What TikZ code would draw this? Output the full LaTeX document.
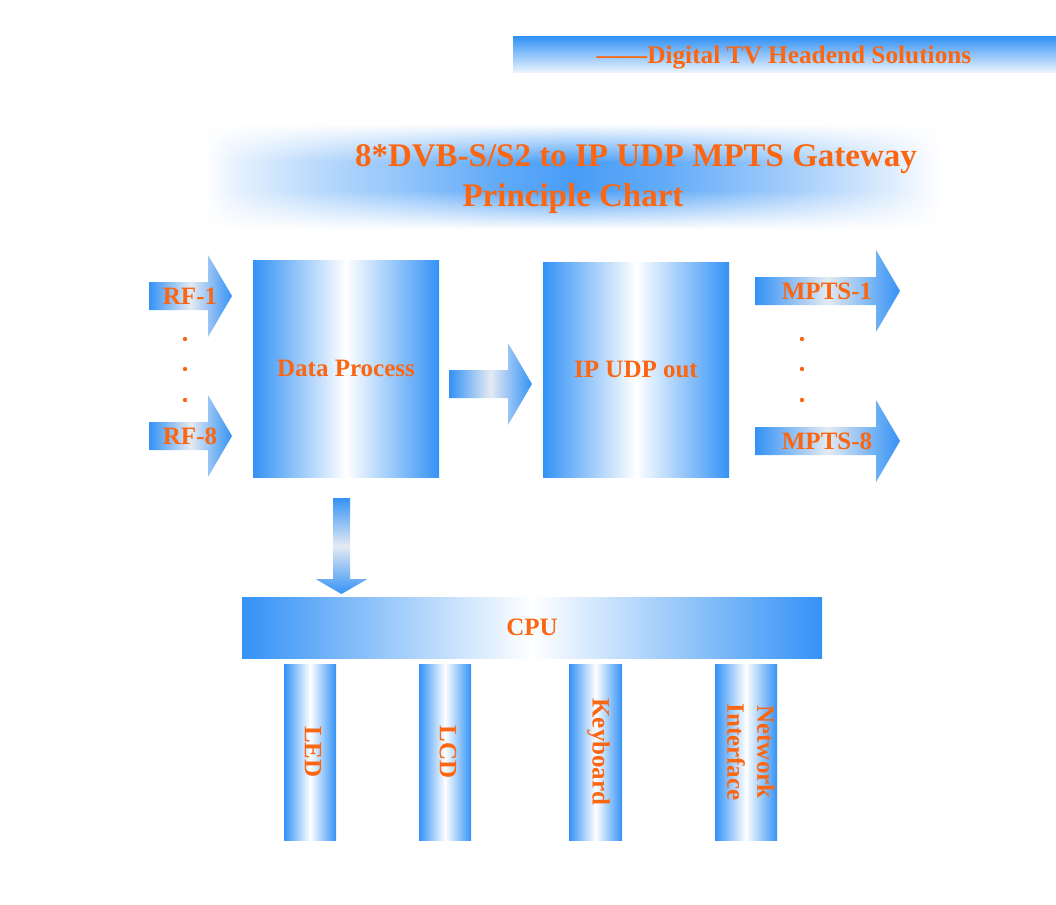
\documentclass[tikz,border=0pt]{standalone}
\usepackage{fontspec}
\setmainfont{Liberation Serif}
\usetikzlibrary{fadings}
\definecolor{tvblue}{RGB}{52,146,246}
\definecolor{tvlight}{RGB}{228,234,242}
\definecolor{tvorange}{RGB}{250,102,18}
\pgfdeclarehorizontalshading{blobh}{100bp}{color(0bp)=(white); color(25bp)=(white); color(27bp)=(tvblue!12!white); color(32bp)=(tvblue!32!white); color(38bp)=(tvblue!52!white); color(45bp)=(tvblue!78!white); color(50bp)=(tvblue!90!white); color(56bp)=(tvblue!78!white); color(65bp)=(tvblue!45!white); color(72bp)=(tvblue!15!white); color(75bp)=(white); color(100bp)=(white)}
\tikzfading[name=fadetopband, top color=transparent!0, bottom color=transparent!100]
\tikzfading[name=fadebotband, top color=transparent!100, bottom color=transparent!0]
\newcommand\blockarrowH[6]{\path[harrowfill] (#1,#4-#5) -- (#2,#4-#5) -- (#2,#4-#6) -- (#3,#4) -- (#2,#4+#6) -- (#2,#4+#5) -- (#1,#4+#5) -- cycle;}
\newcommand\blockarrowV[6]{\path[varrowfill] (#1-#5,#2) -- (#1-#5,#3) -- (#1-#6,#3) -- (#1,#4) -- (#1+#6,#3) -- (#1+#5,#3) -- (#1+#5,#2) -- cycle;}
\tikzset{
  lbl/.style={text=tvorange, font=\bfseries\fontsize{25}{30}\selectfont, inner sep=0pt, align=center},
  hdrlbl/.style={text=tvorange, font=\bfseries\fontsize{25.3}{30}\selectfont, inner sep=0pt},
  titlelbl/.style={text=tvorange, font=\bfseries\fontsize{33}{38}\selectfont, inner sep=0pt},
  bigbox/.style={rectangle, draw=none, left color=tvblue, right color=tvblue, middle color=white, inner sep=0pt},
  harrowfill/.style={left color=tvblue, right color=tvblue, middle color=tvlight},
  varrowfill/.style={top color=tvblue, bottom color=tvblue, middle color=tvlight},
  dotmark/.style={fill=tvorange, draw=none},
}
\begin{document}
\begin{tikzpicture}[x=1pt,y=-1pt]
\useasboundingbox (0,0) rectangle (1056,904);
\fill[white] (0,0) rectangle (1056,904);

% header bar
\path[top color=tvblue, bottom color=white!92!tvblue] (513,37) rectangle (1056,73);
\node[hdrlbl] (hdr) at (784,58) {——Digital TV Headend Solutions};

% title blob
\path[shading=blobh] (205,125) rectangle (940,228);
\fill[white, path fading=fadetopband] (204,124) rectangle (941,162);
\fill[white, path fading=fadebotband] (204,190) rectangle (941,229);
\node[titlelbl] (title1) at (636,159) {8*DVB-S/S2 to IP UDP MPTS Gateway};
\node[titlelbl] (title2) at (573,199) {Principle Chart};

% main boxes
\node[bigbox, minimum width=186pt, minimum height=217pt, lbl] (dp) at (346,368.5) {Data Process};
\node[bigbox, minimum width=186pt, minimum height=215pt, lbl] (ip) at (636,369.5) {IP UDP out};

% input arrows
\blockarrowH{149}{208}{232}{296}{14}{41}
\blockarrowH{149}{208}{232}{436}{14}{41}
\node[lbl] (rf1) at (190,296) {RF-1};
\node[lbl] (rf8) at (190,436) {RF-8};
\foreach \yy in {339,369,400} \path[dotmark] (185,\yy) circle (2.2);

% middle arrow
\blockarrowH{449}{508}{532}{384}{14}{41}

% output arrows
\blockarrowH{755}{876}{900}{291}{14}{41}
\blockarrowH{755}{876}{900}{441}{14}{41}
\node[lbl] (mpts1) at (827,291) {MPTS-1};
\node[lbl] (mpts8) at (827,441) {MPTS-8};
\foreach \yy in {339,369,400} \path[dotmark] (802,\yy) circle (2.2);

% down arrow
\blockarrowV{341.5}{498}{579}{594}{8.5}{26}

% CPU
\node[bigbox, minimum width=580pt, minimum height=61pt, lbl] (cpu) at (532,627.5) {CPU};

% columns
\node[bigbox, minimum width=52pt, minimum height=176pt] (led) at (310,752) {};
\node[bigbox, minimum width=52pt, minimum height=176pt] (lcd) at (445,752) {};
\node[bigbox, minimum width=53pt, minimum height=176pt] (kbd) at (595.5,752) {};
\node[bigbox, minimum width=62pt, minimum height=176pt] (net) at (746,752) {};
\node[lbl, rotate=-90] (ledt) at ([xshift=3pt]led.center) {LED};
\node[lbl, rotate=-90] (lcdt) at ([xshift=3pt]lcd.center) {LCD};
\node[lbl, rotate=-90] (kbdt) at ([xshift=3pt]kbd.center) {Keyboard};
\node[lbl, rotate=-90] (nett) at ([xshift=5pt]net.center) {Network\\Interface};
\end{tikzpicture}
\end{document}
